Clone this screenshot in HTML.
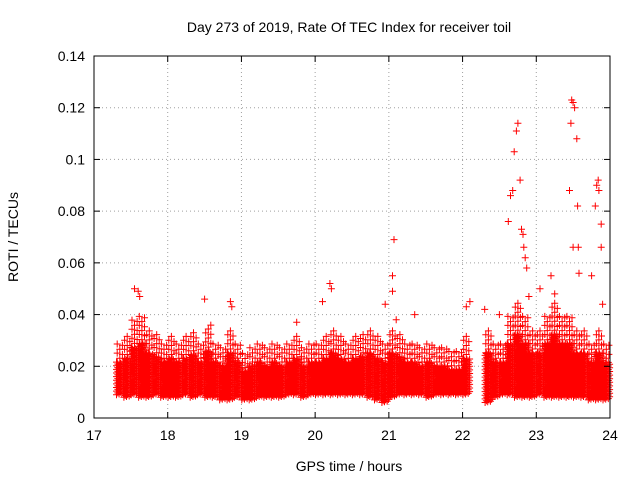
<!DOCTYPE html>
<html><head><meta charset="utf-8"><style>
body{margin:0;background:#fff}
svg{display:block;font-family:"Liberation Sans",sans-serif}
</style></head><body>
<svg id="c" width="640" height="480">
<rect width="640" height="480" fill="#fff"/>
<g id="grid"></g><g id="marks"></g><g id="axes"></g>
<text x="349" y="32" font-size="14" text-anchor="middle">Day 273 of 2019, Rate Of TEC Index for receiver toil</text>
<text x="349" y="471" font-size="14" text-anchor="middle">GPS time / hours</text>
<text x="0" y="0" font-size="14" text-anchor="middle" transform="translate(18,237) rotate(-90)">ROTI / TECUs</text>
</svg>
<script>
const xTicks=[17,18,19,20,21,22,23,24];
const yTicks=[0,0.02,0.04,0.06,0.08,0.1,0.12,0.14];
const yTickLabels=["0","0.02","0.04","0.06","0.08","0.1","0.12","0.14"];
const binTimes=[17.35,17.45,17.55,17.65,17.75,17.85,17.95,18.05,18.15,18.25,18.35,18.45,18.55,18.65,18.75,18.85,18.95,19.05,19.15,19.25,19.35,19.45,19.55,19.65,19.75,19.85,19.95,20.05,20.15,20.25,20.35,20.45,20.55,20.65,20.75,20.85,20.95,21.05,21.15,21.25,21.35,21.45,21.55,21.65,21.75,21.85,21.95,22.05,22.35,22.45,22.55,22.65,22.75,22.85,22.95,23.05,23.15,23.25,23.35,23.45,23.55,23.65,23.75,23.85,23.95];
const binHigh=[0.03,0.032,0.038,0.04,0.035,0.033,0.03,0.032,0.03,0.032,0.034,0.03,0.036,0.03,0.028,0.035,0.03,0.025,0.028,0.03,0.028,0.03,0.028,0.03,0.032,0.028,0.03,0.03,0.032,0.035,0.032,0.03,0.032,0.033,0.035,0.032,0.03,0.035,0.033,0.03,0.03,0.028,0.03,0.028,0.028,0.026,0.026,0.032,0.035,0.03,0.03,0.04,0.045,0.04,0.035,0.035,0.04,0.045,0.04,0.04,0.035,0.035,0.03,0.035,0.03];
const binLow=[0.009,0.008,0.009,0.008,0.008,0.009,0.008,0.008,0.008,0.009,0.008,0.009,0.008,0.008,0.007,0.007,0.008,0.007,0.007,0.008,0.008,0.008,0.008,0.009,0.009,0.008,0.009,0.009,0.009,0.009,0.009,0.009,0.009,0.009,0.008,0.007,0.006,0.008,0.009,0.009,0.009,0.009,0.008,0.009,0.009,0.009,0.009,0.009,0.006,0.008,0.009,0.009,0.008,0.008,0.008,0.009,0.008,0.008,0.008,0.008,0.008,0.008,0.007,0.007,0.007];
const outT=[17.55,17.6,17.62,18.5,18.85,18.87,19.75,20.2,20.22,20.1,20.95,21.05,21.07,21.05,21.35,22.1,22.05,22.3,22.5,22.62,22.65,22.68,22.7,22.73,22.75,22.78,22.8,22.82,22.83,22.85,22.87,22.9,23.05,23.2,23.25,23.45,23.47,23.48,23.5,23.52,23.55,23.56,23.57,23.58,23.75,23.8,23.82,23.84,23.85,23.88,23.88,23.9,21.1,23.5];
const outV=[0.05,0.049,0.047,0.046,0.045,0.043,0.037,0.052,0.05,0.045,0.044,0.055,0.069,0.049,0.04,0.045,0.043,0.042,0.04,0.076,0.086,0.088,0.103,0.111,0.114,0.092,0.073,0.071,0.066,0.062,0.058,0.047,0.05,0.055,0.048,0.088,0.114,0.123,0.122,0.12,0.108,0.082,0.066,0.056,0.055,0.082,0.09,0.092,0.088,0.075,0.066,0.044,0.038,0.066];
const L=94,R=610,T=56,B=418;
const X=t=>L+(t-17)/7*(R-L);
const Y=v=>B-v/0.14*(B-T);
const NS="http://www.w3.org/2000/svg";
const mk=(p,tag,a)=>{const e=document.createElementNS(NS,tag);for(const k in a)e.setAttribute(k,a[k]);p.appendChild(e);return e;};
const grid=document.getElementById('grid'),axes=document.getElementById('axes'),marks=document.getElementById('marks');
xTicks.forEach(t=>{
 if(t>17&&t<24){const g=mk(grid,'line',{x1:X(t),x2:X(t),y1:T,y2:B,stroke:'#a0a0a0','stroke-dasharray':'1,3'});
 }
 mk(axes,'line',{x1:X(t),x2:X(t),y1:B,y2:B-6,stroke:'#000'});mk(axes,'line',{x1:X(t),x2:X(t),y1:T,y2:T+6,stroke:'#000'});
 const tx=mk(axes,'text',{x:X(t),y:B+22,'font-size':14,'text-anchor':'middle'});tx.textContent=t;
 
});
yTicks.forEach((v,i)=>{
 if(v>0&&v<0.14){const g=mk(grid,'line',{x1:L,x2:R,y1:Y(v),y2:Y(v),stroke:'#a0a0a0','stroke-dasharray':'1,3'});
 }
 mk(axes,'line',{x1:L,x2:L+6,y1:Y(v),y2:Y(v),stroke:'#000'});mk(axes,'line',{x1:R,x2:R-6,y1:Y(v),y2:Y(v),stroke:'#000'});
 const tx=mk(axes,'text',{x:L-9,y:Y(v)+5,'font-size':14,'text-anchor':'end'});tx.textContent=yTickLabels[i];
 
});
const fr=mk(axes,'rect',{x:L,y:T,width:R-L,height:B-T,fill:'none',stroke:'#000'});

let d='';
const cross=(t,v)=>{const x=X(t),y=Y(v);d+=`M${(x-3.5).toFixed(1)} ${y.toFixed(1)}h7M${x.toFixed(1)} ${(y-3.5).toFixed(1)}v7`;};
const offs=[0,0.0007,0.0003,0.001,0.0005,0.0012];
binTimes.forEach((t,i)=>{
 for(let k=0;k<6;k++){const tt=t-0.045+k*0.018;
  for(let v=binLow[i]+offs[k];v<=binHigh[i]*0.72;v+=0.0014)cross(tt,v);}
 for(let k=0;k<3;k++){const tt=t-0.035+k*0.035;
  for(let v=binHigh[i]*0.72+k*0.0015;v<=binHigh[i];v+=0.0035)cross(tt,v);}
});
outT.forEach((t,i)=>cross(t,outV[i]));
const p=mk(marks,'path',{d:d,stroke:'#f00','stroke-width':1,fill:'none'});


</script>
</body></html>
